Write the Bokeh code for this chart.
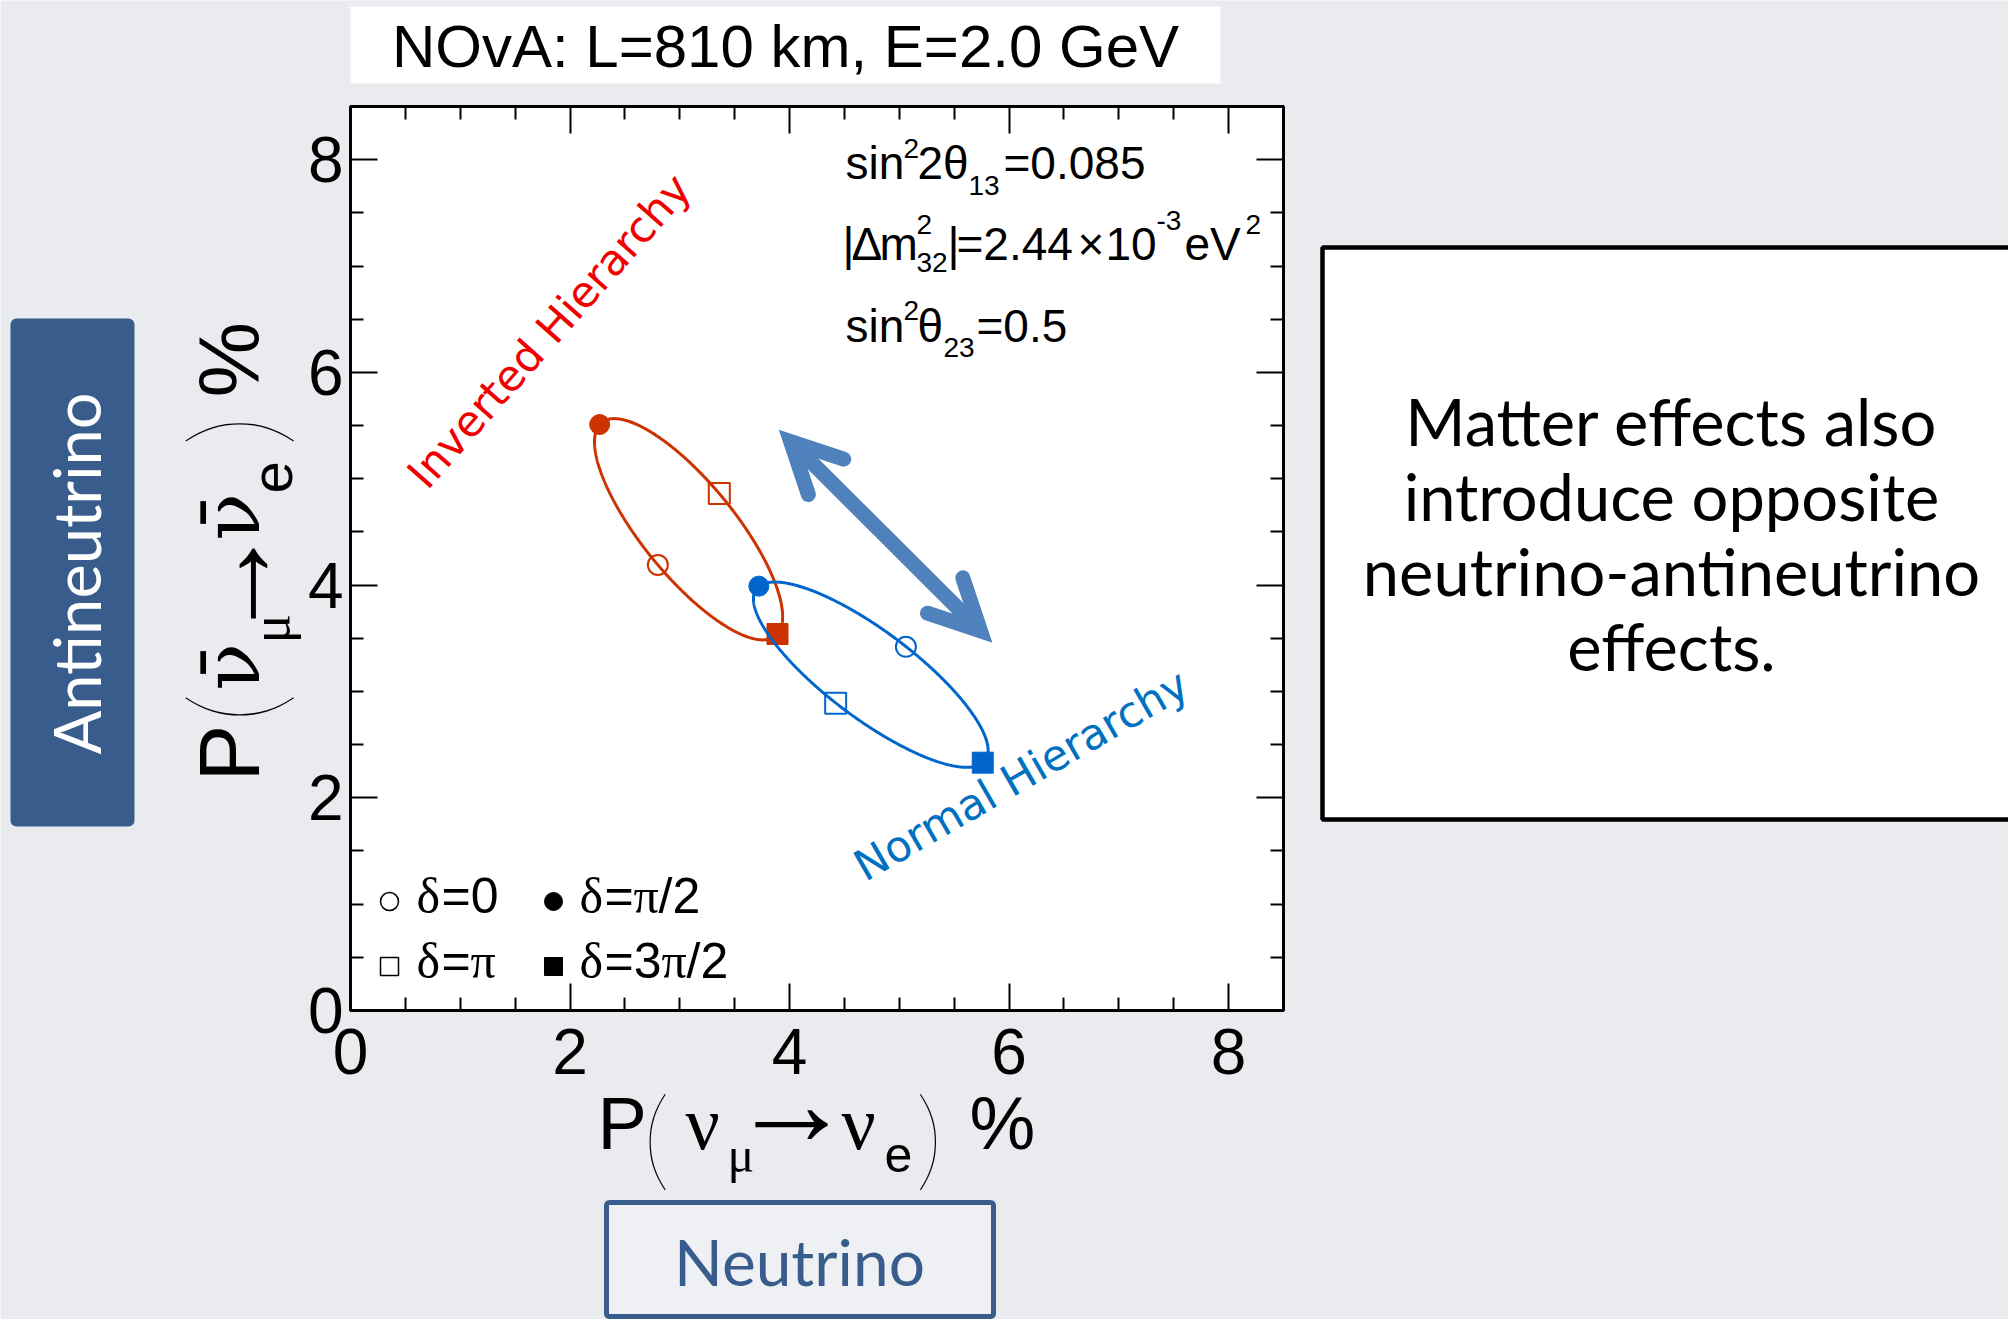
import math
import numpy as np
from bokeh.plotting import figure
from bokeh.models import (Range1d, LinearAxis, FixedTicker, Arrow, OpenHead,
                          Label, BoxAnnotation)
from bokeh.embed import file_html
from bokeh.resources import INLINE

# Appearance probabilities (%) at the four CP phases delta = 0, pi/2, pi, 3pi/2
delta_phases = ["0", "π/2", "π", "3π/2"]
nh_p_nu = [5.06, 3.72, 4.42, 5.76]      # normal hierarchy, neutrinos
nh_p_nubar = [3.42, 3.99, 2.89, 2.33]   # normal hierarchy, antineutrinos
ih_p_nu = [2.80, 2.27, 3.36, 3.89]      # inverted hierarchy, neutrinos
ih_p_nubar = [4.19, 5.51, 4.86, 3.54]   # inverted hierarchy, antineutrinos

major_ticks = [0, 2, 4, 6, 8]
minor_ticks = [0.5, 1, 1.5, 2.5, 3, 3.5, 4.5, 5, 5.5, 6.5, 7, 7.5]

note_lines = ["Matter effects also", "introduce opposite",
              "neutrino-antineutrino", "effects."]

# marker style per phase: open circle, full circle, open square, full square
phase_marker = ["circle", "circle", "square", "square"]
phase_filled = [False, True, False, True]

# colours and fonts
BG = "#e9ebee"
NH_COLOR = "#0066cc"
IH_COLOR = "#cc3300"
NH_TEXT = "#0070c0"
IH_TEXT = "#f00000"
ARROW_COLOR = "#4f81bd"
SLIDE_BLUE = "#385d8d"
SANS = "Liberation Sans"
SERIF = "Liberation Serif"
BARSERIF = "DejaVu Serif"
SLIDE = "Lato"
THIN = "Lato Hairline"

# canvas and plot-area geometry (pixels)
W, H = 2008, 1319
FL, FR, FT, FB = 350, 1283, 106, 1010
XMAX = YMAX = 8.5
KX = (FR - FL) / XMAX
KY = (FB - FT) / YMAX


def ux(px):
    return (px - FL) / KX


def uy(py):
    return (FB - py) / KY


def cp_curve(prob):
    """P(delta) = a + b cos(delta) + c sin(delta), fixed by its values at the four phases."""
    a = sum(prob) / 4.0
    b = (prob[0] - prob[2]) / 2.0
    c = (prob[1] - prob[3]) / 2.0
    d = np.linspace(0.0, 2.0 * np.pi, 721)
    return a + b * np.cos(d) + c * np.sin(d)


# the frame spans the whole slide; the probability plot sits at 0..8.5 in both axes
p = figure(width=W, height=H,
           x_range=Range1d(ux(0), ux(W)), y_range=Range1d(uy(H), uy(0)),
           x_axis_type=None, y_axis_type=None,
           output_backend="svg", toolbar_location=None, min_border=0,
           background_fill_color=BG, border_fill_color=BG, outline_line_color=None)
p.grid.visible = False


def box(left, right, top, bottom, fill, line=None, width=0, radius=0):
    p.add_layout(BoxAnnotation(left=ux(left), right=ux(right), top=uy(top), bottom=uy(bottom),
                               fill_color=fill, fill_alpha=1.0,
                               line_color=line, line_alpha=1.0, line_width=width,
                               border_radius=radius, level="underlay"))


# white plot area with a black frame
p.add_layout(BoxAnnotation(left=0, right=XMAX, bottom=0, top=YMAX,
                           fill_color="white", fill_alpha=1.0,
                           line_color="black", line_alpha=1.0, line_width=3,
                           level="underlay"))


def frame_axis(side, where, labelled, standoff=8):
    ax = LinearAxis(ticker=FixedTicker(ticks=major_ticks, minor_ticks=minor_ticks),
                    fixed_location=where, bounds=(0, XMAX),
                    axis_line_width=3, axis_line_color="black",
                    major_tick_in=27, major_tick_out=0, major_tick_line_width=2,
                    minor_tick_in=13, minor_tick_out=0, minor_tick_line_width=2,
                    major_label_text_font=SANS, major_label_text_font_size="64px",
                    major_label_text_color="black", major_label_standoff=standoff)
    if not labelled:
        ax.major_label_overrides = {float(t): "" for t in major_ticks}
    p.add_layout(ax, side)


frame_axis("left", 0, True, standoff=7)
frame_axis("below", 0, True, standoff=18)
frame_axis("above", YMAX, False)
frame_axis("right", XMAX, False)

# labels are anchored by their baseline; this shifts the anchor to land it there
BASE = 0.355


def text(s, px, py, size, font=SANS, color="black", angle=0.0, align="left"):
    ax_ = px - BASE * size * math.sin(angle)
    ay_ = py - BASE * size * math.cos(angle)
    p.add_layout(Label(x=ux(ax_), y=uy(ay_), text=s, text_font=font,
                       text_font_size=f"{size}px", text_color=color, angle=angle,
                       text_align=align, text_baseline="alphabetic"))


# CP ellipses and their phase markers
for p_nu, p_nubar, color in ((ih_p_nu, ih_p_nubar, IH_COLOR), (nh_p_nu, nh_p_nubar, NH_COLOR)):
    p.line(cp_curve(p_nu), cp_curve(p_nubar), line_color=color, line_width=3)
    for i in range(4):
        filled = phase_filled[i]
        size = 20 if phase_marker[i] == "circle" else 21
        p.scatter([p_nu[i]], [p_nubar[i]], marker=phase_marker[i], size=size,
                  line_color=color, line_width=1 if filled else 2,
                  fill_color=color if filled else None)

# matter-effect arrow (data coordinates of the two heads)
head = dict(size=50, line_width=15, line_color=ARROW_COLOR, line_join="miter", line_cap="round")
p.add_layout(Arrow(start=OpenHead(**head), end=OpenHead(**head),
                   x_start=4.01, y_start=5.35, x_end=5.74, y_end=3.57,
                   line_width=15, line_color=ARROW_COLOR))

# curve names
text("Inverted Hierarchy", 427, 491, 43, font="DejaVu Sans", color=IH_TEXT,
     angle=math.radians(48.5))
text("Normal Hierarchy", 865, 882, 43, font="DejaVu Sans", color=NH_TEXT,
     angle=math.radians(30))

# oscillation parameters
PS, SS = 46, 28
text("sin", 845, 179, PS)
text("2", 903, 158, SS)
text("2θ", 917, 179, PS)
text("13", 968, 195, SS)
text("=0.085", 1003, 179, PS)

text("|", 842, 260, PS)
text("Δ", 851, 260, PS)
text("m", 879, 260, PS)
text("2", 916, 234, SS)
text("32", 916, 272, SS)
text("|", 947, 260, PS)
text("=2.44", 956, 260, PS)
text("×", 1077, 260, PS)
text("10", 1105, 260, PS)
text("-3", 1156, 230, SS)
text("eV", 1184, 260, PS)
text("2", 1245, 234, SS)

text("sin", 845, 342, PS)
text("2", 903, 320, SS)
text("θ", 917, 342, PS)
text("23", 943, 357, SS)
text("=0.5", 976, 342, PS)

# phase key
key_x = [389, 553, 389, 553]
key_y = [901, 901, 966, 966]
for i in range(4):
    filled = phase_filled[i]
    p.scatter([ux(key_x[i])], [uy(key_y[i])], marker=phase_marker[i], size=18,
              line_color="black", line_width=1 if filled else 1.5,
              fill_color="black" if filled else None)
LS = 50
text("δ", 416, 913, LS, font=SERIF)
text("=0", 441, 913, LS)
text("δ", 579, 913, LS, font=SERIF)
text("=", 604, 913, LS)
text("π", 633, 913, LS, font=SERIF)
text("/2", 658, 913, LS)
text("δ", 416, 978, LS, font=SERIF)
text("=", 441, 978, LS)
text("π", 470, 978, LS, font=SERIF)
text("δ", 579, 978, LS, font=SERIF)
text("=3", 604, 978, LS)
text("π", 661, 978, LS, font=SERIF)
text("/2", 686, 978, LS)

# x-axis title: P( nu_mu -> nu_e ) %
text("P", 597, 1149, 74)
text("(", 642, 1173, 110, font=THIN)
text("ν", 685, 1149, 76, font=SERIF)
text("μ", 727, 1172, 50, font=SERIF)
text("→", 730, 1146, 122, font=SERIF)
text("ν", 841, 1149, 76, font=SERIF)
text("e", 884, 1172, 50)
text(")", 915, 1173, 110, font=THIN)
text("%", 969, 1149, 74)

# y-axis title: P( anti-nu_mu -> anti-nu_e ) %, read bottom to top
V = math.pi / 2
text("P", 259, 781, 85, angle=V)
text("(", 275, 723, 125, font=THIN, angle=V)
text("ν\u0304", 259, 690, 78, font=BARSERIF, angle=V)
text("μ", 290, 643, 55, font=SERIF, angle=V)
text("→", 275, 642, 118, font=SERIF, angle=V)
text("ν\u0304", 259, 540, 78, font=BARSERIF, angle=V)
text("e", 292, 493, 58, angle=V)
text(")", 275, 446, 125, font=THIN, angle=V)
text("%", 259, 397, 85, angle=V)

# slide furniture around the plot
box(350, 1220, 6, 83, "white")
text("NOvA: L=810 km, E=2.0 GeV", 785, 67, 60, align="center")

box(10, 134, 318, 826, SLIDE_BLUE, radius=6)
text("Antineutrino", 99, 573, 65, font=SLIDE, color="white", angle=V, align="center")

box(606, 993, 1202, 1316, "#eef0f3", line=SLIDE_BLUE, width=5, radius=3)
text("Neutrino", 799, 1284, 64, font=SLIDE, color=SLIDE_BLUE, align="center")

box(1322, 2040, 247, 819, "white", line="black", width=4.5)
for k, line in enumerate(note_lines):
    text(line, 1671, 444 + 75 * k, 65, font=SLIDE, align="center")

open("out.html", "w").write(file_html(p, INLINE))
